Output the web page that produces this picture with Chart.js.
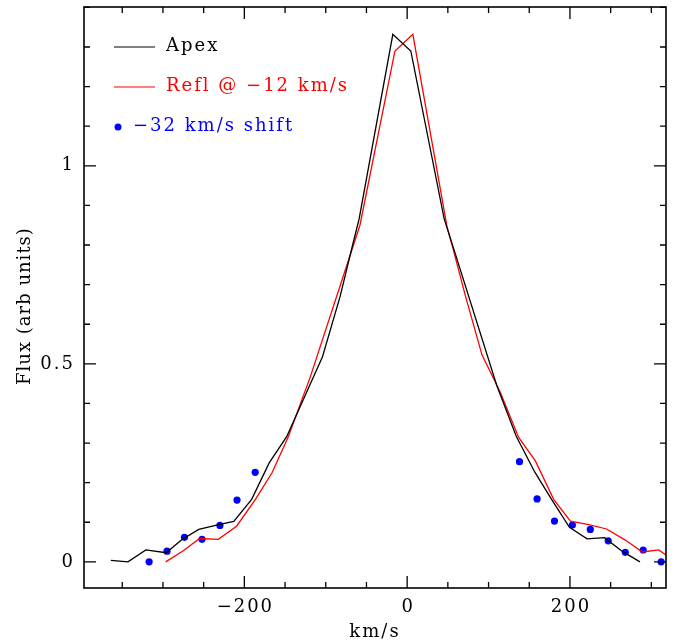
<!DOCTYPE html>
<html>
<head>
<meta charset="utf-8">
<script src="https://cdn.jsdelivr.net/npm/chart.js@4/dist/chart.umd.min.js"></script>
<style>
  html, body { margin: 0; padding: 0; background: #fff; }
  canvas { display: block; }
</style>
</head>
<body>
<canvas id="spec" width="678" height="642"></canvas>
<script>
// Apex profile (black line)
const apexVel  = [-364, -343, -321, -296, -277, -256, -234, -213, -191, -169.5, -148, -104, -82.5, -67, -59, -17.6, 4.5, 45.5, 59, 110, 134, 156.7, 178, 199.4, 221, 242.5, 264, 286];
const apexFlux = [0.004, 0.0, 0.030, 0.023, 0.056, 0.082, 0.093, 0.102, 0.158, 0.250, 0.316, 0.518, 0.669, 0.800, 0.866, 1.332, 1.290, 0.866, 0.779, 0.446, 0.317, 0.227, 0.156, 0.087, 0.058, 0.061, 0.027, 0.0];

// Reflected profile @ -12 km/s (red line)
const reflVel  = [-296.6, -275, -255, -232, -209.6, -187, -166, -146, -119, -58, -15, 7, 49, 57, 71.4, 92, 114, 137, 157.5, 180, 200.6, 223, 245, 268, 289, 309, 330];
const reflFlux = [0.0, 0.028, 0.059, 0.057, 0.090, 0.156, 0.225, 0.316, 0.467, 0.850, 1.290, 1.332, 0.846, 0.786, 0.673, 0.522, 0.430, 0.314, 0.255, 0.158, 0.103, 0.094, 0.083, 0.055, 0.025, 0.030, 0.0];

// -32 km/s shifted wings (blue dots)
const shiftVel  = [-317, -295, -273.6, -252, -230, -209, -186.7, 138, 159.6, 181, 203, 225, 247, 268, 290, 312];
const shiftFlux = [0.0, 0.027, 0.062, 0.057, 0.092, 0.156, 0.226, 0.253, 0.159, 0.103, 0.093, 0.082, 0.053, 0.024, 0.030, 0.0];

const xTicks = [-200, 0, 200];
const yTicks = [0, 0.5, 1];

const FONT = '18px "DejaVu Serif"';

function pairs(xs, ys) {
    return xs.map((x, i) => ({x: x, y: ys[i]}));
}

function fmtTick(v) {
    return String(v).replace('-', '\u2212');
}

// frame, inward ticks, tick labels, axis titles and legend, PGPLOT style
const pgFrame = {
    id: 'pgFrame',
    afterDatasetsDraw: function(chart) {
        const ctx = chart.ctx,
            a = chart.chartArea,
            xs = chart.scales.x,
            ys = chart.scales.y;

        ctx.save();
        ctx.strokeStyle = '#000';
        ctx.lineWidth = 1.6;
        ctx.strokeRect(a.left, a.top, a.right - a.left, a.bottom - a.top);

        ctx.lineWidth = 1.3;
        ctx.beginPath();
        for (let v = Math.ceil(xs.min / 50) * 50; v <= xs.max; v += 50) {
            const px = xs.getPixelForValue(v),
                len = (v % 200 === 0) ? 12 : 6;
            ctx.moveTo(px, a.bottom); ctx.lineTo(px, a.bottom - len);
            ctx.moveTo(px, a.top); ctx.lineTo(px, a.top + len);
        }
        for (let i = Math.ceil(ys.min * 10); i <= Math.floor(ys.max * 10); i++) {
            const py = ys.getPixelForValue(i / 10),
                len = (i % 5 === 0) ? 12 : 6;
            ctx.moveTo(a.left, py); ctx.lineTo(a.left + len, py);
            ctx.moveTo(a.right, py); ctx.lineTo(a.right - len, py);
        }
        ctx.stroke();

        ctx.fillStyle = '#000';
        ctx.font = FONT;
        ctx.letterSpacing = '2px';
        ctx.textAlign = 'center';
        ctx.textBaseline = 'middle';
        xTicks.forEach(function(v) {
            ctx.fillText(fmtTick(v), xs.getPixelForValue(v) + 1, 607);
        });
        ctx.textAlign = 'right';
        yTicks.forEach(function(v) {
            ctx.fillText(fmtTick(v), 75, ys.getPixelForValue(v));
        });

        ctx.textAlign = 'center';
        ctx.fillText('km/s', (a.left + a.right) / 2, 632);
        ctx.save();
        ctx.letterSpacing = '1px';
        ctx.translate(25, 306);
        ctx.rotate(-Math.PI / 2);
        ctx.fillText('Flux (arb units)', 0, 0);
        ctx.restore();

        // legend
        ctx.textAlign = 'left';
        ctx.lineWidth = 1.2;
        ctx.strokeStyle = '#000';
        ctx.beginPath(); ctx.moveTo(114, 47); ctx.lineTo(155, 47); ctx.stroke();
        ctx.fillStyle = '#000';
        ctx.fillText('Apex', 166, 46);

        ctx.strokeStyle = '#ff0000';
        ctx.beginPath(); ctx.moveTo(114, 87); ctx.lineTo(155, 87); ctx.stroke();
        ctx.fillStyle = '#ff0000';
        ctx.fillText('Refl @ \u221212 km/s', 166, 86);

        ctx.fillStyle = '#0000ff';
        ctx.beginPath(); ctx.arc(118, 127, 3.5, 0, Math.PI * 2); ctx.fill();
        ctx.fillText('\u221232 km/s shift', 133, 126);
        ctx.restore();
    }
};

new Chart(document.getElementById('spec'), {
    type: 'scatter',
    data: {
        datasets: [{
            label: 'Apex',
            data: pairs(apexVel, apexFlux),
            showLine: true,
            borderColor: '#000000',
            borderWidth: 1.3,
            pointRadius: 0,
            clip: 0
        },{
            label: 'Refl @ -12 km/s',
            data: pairs(reflVel, reflFlux),
            showLine: true,
            borderColor: '#ff0000',
            borderWidth: 1.3,
            pointRadius: 0,
            clip: 0
        },{
            label: '-32 km/s shift',
            data: pairs(shiftVel, shiftFlux),
            showLine: false,
            backgroundColor: '#0000ff',
            borderColor: '#0000ff',
            borderWidth: 0,
            pointRadius: 3.6,
            clip: 0
        }]
    },
    options: {
        responsive: false,
        animation: false,
        layout: {
            padding: {left: 84, right: 12, top: 7, bottom: 54}
        },
        plugins: {
            legend: {display: false},
            tooltip: {enabled: false}
        },
        scales: {
            x: {
                type: 'linear',
                min: -397,
                max: 318,
                display: false
            },
            y: {
                type: 'linear',
                min: -0.066,
                max: 1.401,
                display: false
            }
        }
    },
    plugins: [pgFrame]
});
</script>
</body>
</html>
